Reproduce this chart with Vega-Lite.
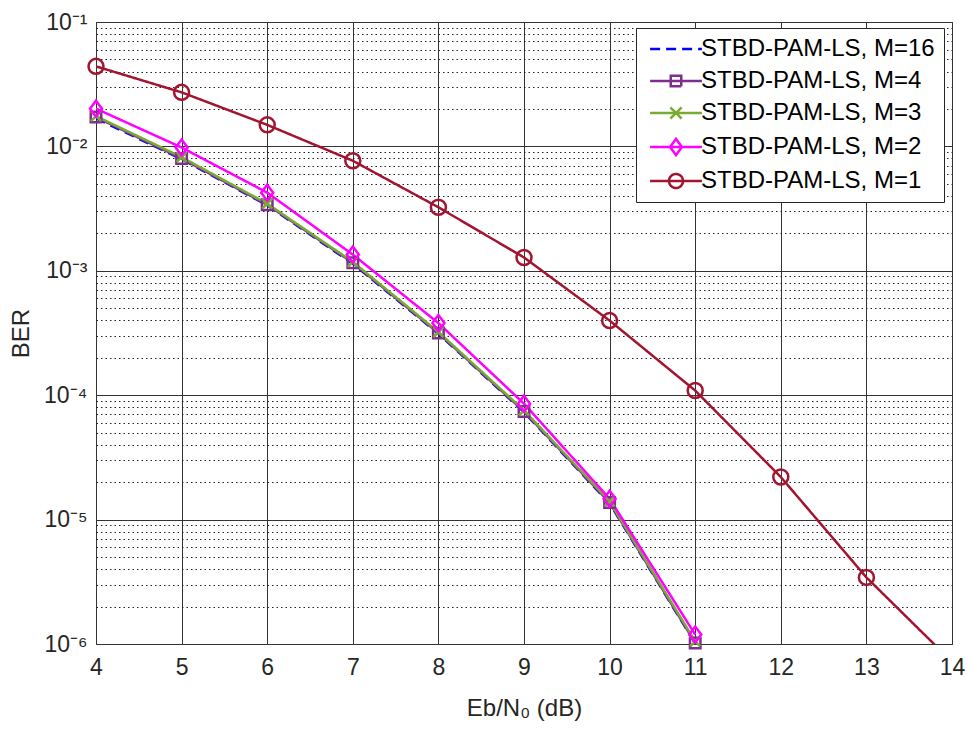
{
  "$schema": "https://vega.github.io/schema/vega-lite/v6.json",
  "width": 856,
  "height": 622,
  "autosize": {"type": "none"},
  "padding": {"left": 96, "top": 22, "right": 15, "bottom": 85},
  "background": "white",
  "config": {
    "font": "Liberation Sans",
    "view": {"stroke": "#262626", "strokeWidth": 1},
    "axis": {
      "labelFont": "Liberation Sans",
      "titleFont": "Liberation Sans",
      "labelColor": "#262626",
      "titleColor": "#262626",
      "labelFontSize": 23,
      "titleFontSize": 24,
      "titleFontWeight": "normal",
      "ticks": false,
      "tickSize": 0,
      "domain": false,
      "labelOverlap": false,
      "labelFlush": false,
      "labelBound": false
    },
    "legend": {
      "labelFont": "Liberation Sans"
    }
  },
  "data": {
    "values": [
      {"series": "M=16", "ebn0": 4, "ber": 0.0168},
      {"series": "M=16", "ebn0": 5, "ber": 0.0079},
      {"series": "M=16", "ebn0": 6, "ber": 0.00336},
      {"series": "M=16", "ebn0": 7, "ber": 0.00114},
      {"series": "M=16", "ebn0": 8, "ber": 0.000312},
      {"series": "M=16", "ebn0": 9, "ber": 0.000073},
      {"series": "M=16", "ebn0": 10, "ber": 0.0000135},
      {"series": "M=16", "ebn0": 11, "ber": 0.00000101},
      {"series": "M=4", "ebn0": 4, "ber": 0.0172},
      {"series": "M=4", "ebn0": 5, "ber": 0.0080},
      {"series": "M=4", "ebn0": 6, "ber": 0.00340},
      {"series": "M=4", "ebn0": 7, "ber": 0.00116},
      {"series": "M=4", "ebn0": 8, "ber": 0.000316},
      {"series": "M=4", "ebn0": 9, "ber": 0.000074},
      {"series": "M=4", "ebn0": 10, "ber": 0.0000137},
      {"series": "M=4", "ebn0": 11, "ber": 0.00000102},
      {"series": "M=3", "ebn0": 4, "ber": 0.0175},
      {"series": "M=3", "ebn0": 5, "ber": 0.0082},
      {"series": "M=3", "ebn0": 6, "ber": 0.00346},
      {"series": "M=3", "ebn0": 7, "ber": 0.00118},
      {"series": "M=3", "ebn0": 8, "ber": 0.000322},
      {"series": "M=3", "ebn0": 9, "ber": 0.0000755},
      {"series": "M=3", "ebn0": 10, "ber": 0.0000140},
      {"series": "M=3", "ebn0": 11, "ber": 0.00000105},
      {"series": "M=2", "ebn0": 4, "ber": 0.0201},
      {"series": "M=2", "ebn0": 5, "ber": 0.0098},
      {"series": "M=2", "ebn0": 6, "ber": 0.00425},
      {"series": "M=2", "ebn0": 7, "ber": 0.00135},
      {"series": "M=2", "ebn0": 8, "ber": 0.00038},
      {"series": "M=2", "ebn0": 9, "ber": 0.0000855},
      {"series": "M=2", "ebn0": 10, "ber": 0.0000147},
      {"series": "M=2", "ebn0": 11, "ber": 0.00000119},
      {"series": "M=1", "ebn0": 4, "ber": 0.044},
      {"series": "M=1", "ebn0": 5, "ber": 0.0272},
      {"series": "M=1", "ebn0": 6, "ber": 0.0149},
      {"series": "M=1", "ebn0": 7, "ber": 0.00767},
      {"series": "M=1", "ebn0": 8, "ber": 0.00324},
      {"series": "M=1", "ebn0": 9, "ber": 0.00128},
      {"series": "M=1", "ebn0": 10, "ber": 0.000398},
      {"series": "M=1", "ebn0": 11, "ber": 0.000109},
      {"series": "M=1", "ebn0": 12, "ber": 0.000022},
      {"series": "M=1", "ebn0": 13, "ber": 0.00000343},
      {"series": "M=1", "ebn0": 14, "ber": 0.00000072}
    ]
  },
  "encoding": {
    "x": {
      "field": "ebn0",
      "type": "quantitative",
      "scale": {"domain": [4, 14], "nice": false, "zero": false},
      "axis": {
        "title": "Eb/N₀ (dB)",
        "values": [4, 5, 6, 7, 8, 9, 10, 11, 12, 13, 14],
        "format": "d",
        "grid": true,
        "gridColor": "#333333",
        "gridWidth": 1,
        "labelPadding": 12,
        "titlePadding": 17
      }
    },
    "y": {
      "field": "ber",
      "type": "quantitative",
      "scale": {"type": "log", "domain": [0.000001, 0.1], "nice": false},
      "axis": {
        "title": "BER",
        "values": [0.000001, 0.000002, 0.000003, 0.000004, 0.000005, 0.000006, 0.000007, 0.000008, 0.000009,
                   0.00001, 0.00002, 0.00003, 0.00004, 0.00005, 0.00006, 0.00007, 0.00008, 0.00009,
                   0.0001, 0.0002, 0.0003, 0.0004, 0.0005, 0.0006, 0.0007, 0.0008, 0.0009,
                   0.001, 0.002, 0.003, 0.004, 0.005, 0.006, 0.007, 0.008, 0.009,
                   0.01, 0.02, 0.03, 0.04, 0.05, 0.06, 0.07, 0.08, 0.09, 0.1],
        "labelExpr": "abs(log(datum.value)/LN10 - round(log(datum.value)/LN10)) < 0.000001 ? '10' + ['⁰','⁻¹','⁻²','⁻³','⁻⁴','⁻⁵','⁻⁶'][round(-log(datum.value)/LN10)] : ''",
        "grid": true,
        "gridColor": {
          "condition": {"test": "abs(log(datum.value)/LN10 - round(log(datum.value)/LN10)) < 0.000001", "value": "#333333"},
          "value": "#222222"
        },
        "gridDash": {
          "condition": {"test": "abs(log(datum.value)/LN10 - round(log(datum.value)/LN10)) < 0.000001", "value": []},
          "value": [1.5, 3]
        },
        "labelPadding": 9,
        "titlePadding": 10
      }
    }
  },
  "layer": [
    {
      "mark": {"type": "line", "clip": true, "strokeWidth": 2.5},
      "encoding": {
        "color": {
          "field": "series",
          "type": "nominal",
          "sort": null,
          "scale": {
            "domain": ["M=16", "M=4", "M=3", "M=2", "M=1"],
            "range": ["#0000ff", "#7e2f8e", "#77ac30", "#ff00ff", "#a2142f"]
          },
          "legend": {
            "title": null,
            "orient": "none",
            "legendX": 540,
            "legendY": 6,
            "fillColor": "white",
            "strokeColor": "#262626",
            "padding": 9,
            "labelFontSize": 24,
            "labelLimit": 500,
            "labelColor": "black",
            "labelExpr": "'STBD-PAM-LS, ' + datum.label",
            "symbolSize": 196,
            "symbolStrokeWidth": 2.5,
            "symbolOffset": 19,
            "labelOffset": 13,
            "rowPadding": 8,
            "symbolFillColor": "transparent",
            "encode": {
              "symbols": {
                "update": {
                  "shape": {"signal": "datum.value === 'M=16' ? 'M-3.7,0L3.7,0' : datum.value === 'M=4' ? 'M-3.7,0L3.7,0M-0.75,-0.75L0.75,-0.75L0.75,0.75L-0.75,0.75Z' : datum.value === 'M=3' ? 'M-3.7,0L3.7,0M-0.8,-0.8L0.8,0.8M-0.8,0.8L0.8,-0.8' : datum.value === 'M=2' ? 'M-3.7,0L3.7,0M0,-1.15L0.85,0L0,1.15L-0.85,0Z' : 'M-3.7,0L3.7,0M-1,0A1,1 0 1,0 1,0A1,1 0 1,0 -1,0'"},
                  "fill": {"value": "transparent"}
                }
              }
            }
          }
        },
        "strokeDash": {
          "field": "series",
          "type": "nominal",
          "sort": null,
          "scale": {
            "domain": ["M=16", "M=4", "M=3", "M=2", "M=1"],
            "range": [[10, 6], [1, 0], [1, 0], [1, 0], [1, 0]]
          },
          "legend": {
            "title": null,
            "orient": "none",
            "legendX": 540,
            "legendY": 6,
            "fillColor": "white",
            "strokeColor": "#262626",
            "padding": 9,
            "labelFontSize": 24,
            "labelLimit": 500,
            "labelColor": "black",
            "labelExpr": "'STBD-PAM-LS, ' + datum.label",
            "symbolSize": 196,
            "symbolStrokeWidth": 2.5,
            "symbolOffset": 19,
            "labelOffset": 13,
            "rowPadding": 8,
            "symbolFillColor": "transparent",
            "encode": {
              "symbols": {
                "update": {
                  "shape": {"signal": "datum.value === 'M=16' ? 'M-3.7,0L3.7,0' : datum.value === 'M=4' ? 'M-3.7,0L3.7,0M-0.75,-0.75L0.75,-0.75L0.75,0.75L-0.75,0.75Z' : datum.value === 'M=3' ? 'M-3.7,0L3.7,0M-0.8,-0.8L0.8,0.8M-0.8,0.8L0.8,-0.8' : datum.value === 'M=2' ? 'M-3.7,0L3.7,0M0,-1.15L0.85,0L0,1.15L-0.85,0Z' : 'M-3.7,0L3.7,0M-1,0A1,1 0 1,0 1,0A1,1 0 1,0 -1,0'"},
                  "fill": {"value": "transparent"}
                }
              }
            }
          }
        }
      }
    },
    {
      "transform": [{"filter": "datum.series === 'M=4'"}],
      "mark": {"type": "point", "shape": "square", "size": 110, "filled": false, "stroke": "#7e2f8e", "strokeWidth": 2.5, "opacity": 1}
    },
    {
      "transform": [{"filter": "datum.series === 'M=3'"}],
      "mark": {"type": "point", "shape": "M-1,-1L1,1M-1,1L1,-1", "size": 100, "filled": false, "stroke": "#77ac30", "strokeWidth": 2.5, "opacity": 1}
    },
    {
      "transform": [{"filter": "datum.series === 'M=2'"}],
      "mark": {"type": "point", "shape": "M0,-1L0.75,0L0,1L-0.75,0Z", "size": 256, "filled": false, "stroke": "#ff00ff", "strokeWidth": 2.5, "opacity": 1}
    },
    {
      "transform": [{"filter": "datum.series === 'M=1' && datum.ber >= 0.000001"}],
      "mark": {"type": "point", "shape": "circle", "size": 225, "filled": false, "stroke": "#a2142f", "strokeWidth": 2.5, "opacity": 1}
    }
  ]
}
